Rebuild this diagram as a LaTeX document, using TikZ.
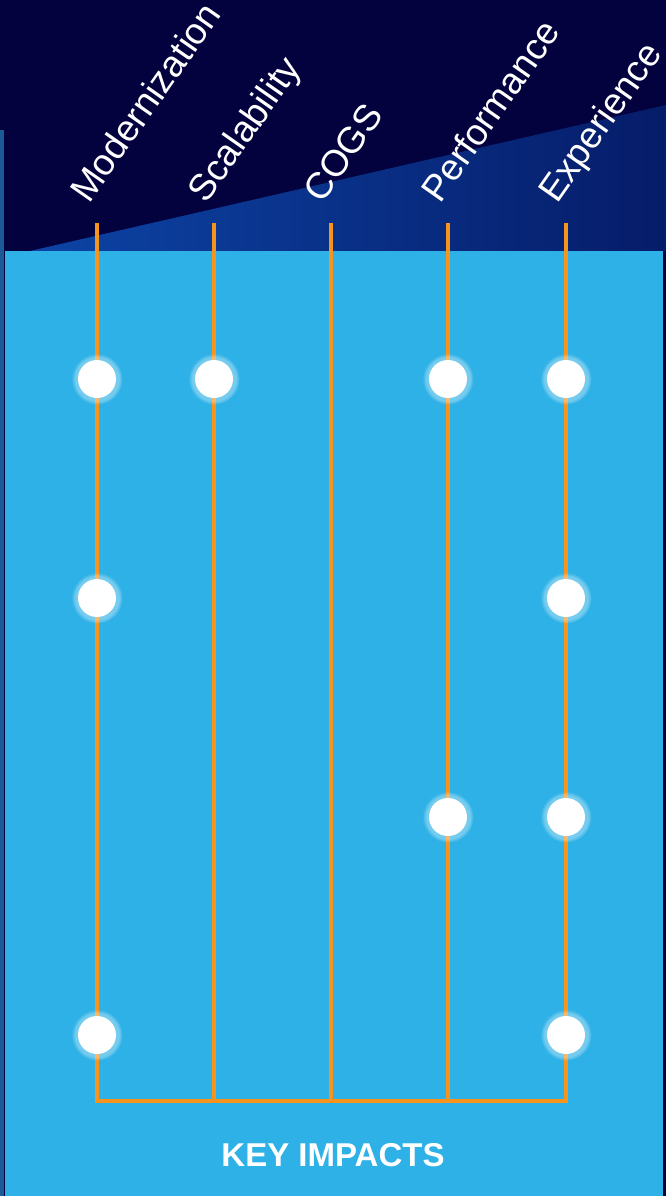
\documentclass[tikz,border=0pt]{standalone}
\usepackage{fontspec}
\setmainfont{Liberation Sans}
\usepackage{tikz}
\usetikzlibrary{positioning,shadows}
\usepackage{xcolor}
\definecolor{navy}{RGB}{3,2,62}
\definecolor{streakblue}{RGB}{12,68,165}
\definecolor{streakdark}{RGB}{6,28,105}
\definecolor{edgeblue}{RGB}{27,90,150}
\definecolor{skypanel}{RGB}{45,177,230}
\definecolor{impactorange}{RGB}{247,148,29}

\begin{document}
\begin{tikzpicture}[
    x=1pt, y=-1pt,
    impactline/.style={impactorange, line width=3.2pt, line join=miter},
    dot/.style={circle, fill=white, minimum size=38pt, inner sep=0pt, circular glow={fill=white, opacity=0.35, shadow scale=1.35}},
    impactlabel/.style={text=white, rotate=55, anchor=base west, inner sep=0pt, font=\fontsize{37}{40}\selectfont},
    titlebox/.style={text=white, font=\fontsize{33}{36}\selectfont\bfseries}
]
    \useasboundingbox (0,0) rectangle (666,1196);
    % background
    \fill[navy] (0,0) rectangle (666,1196);
    \shade[left color=streakblue, right color=streakdark] (30,251) -- (666,105) -- (666,251) -- cycle;
    \fill[edgeblue] (0,130) rectangle (4,1196);
    \fill[skypanel] (5,251) rectangle (663,1196);

    % line ends
    \coordinate (modtop) at (97,223);
    \coordinate (modbot) at (97,1101);
    \coordinate (scatop) at (214,223);
    \coordinate (scabot) at (214,1101);
    \coordinate (cogtop) at (331,223);
    \coordinate (cogbot) at (331,1101);
    \coordinate (pertop) at (448,223);
    \coordinate (perbot) at (448,1101);
    \coordinate (exptop) at (566,223);
    \coordinate (expbot) at (566,1101);

    \draw[impactline] (modtop) -- (modbot) -- (expbot) -- (exptop);
    \draw[impactline] (scatop) -- (scabot);
    \draw[impactline] (cogtop) -- (cogbot);
    \draw[impactline] (pertop) -- (perbot);

    % labels
    \node[impactlabel] (modlabel) at (89,205) {Modernization};
    \node[impactlabel] (scalabel) at (206,205) {Scalability};
    \node[impactlabel] (coglabel) at (322,205) {COGS};
    \node[impactlabel] (perlabel) at (440,205) {Performance};
    \node[impactlabel] (explabel) at (557,205) {Experience};

    % dots
    \node[dot] (mod1) at (97,379) {};
    \node[dot] (sca1) at (214,379) {};
    \node[dot] (per1) at (448,379) {};
    \node[dot] (exp1) at (566,379) {};
    \node[dot] (mod2) at (97,598) {};
    \node[dot] (exp2) at (566,598) {};
    \node[dot] (per3) at (448,817) {};
    \node[dot] (exp3) at (566,817) {};
    \node[dot] (mod4) at (97,1035) {};
    \node[dot] (exp4) at (566,1035) {};

    \node[titlebox] (title) at (333,1155) {KEY IMPACTS};
\end{tikzpicture}
\end{document}
